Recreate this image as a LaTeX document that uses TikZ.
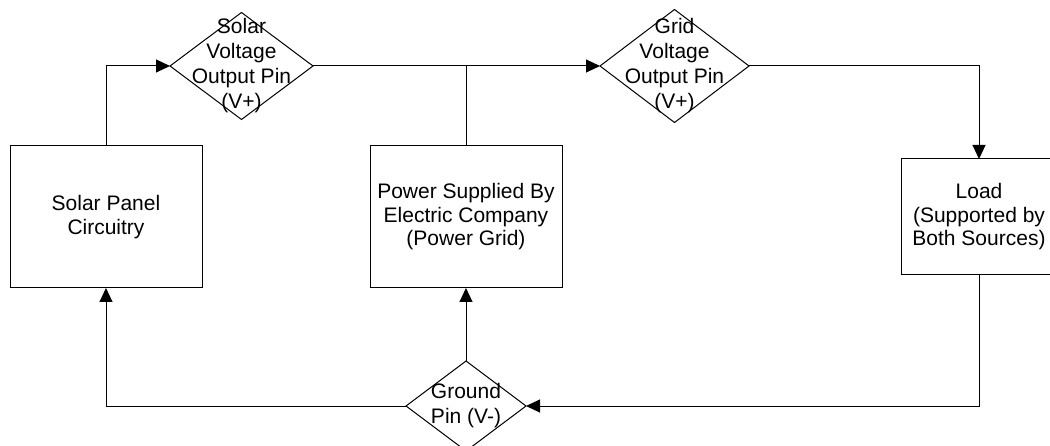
\documentclass[tikz,border=0pt]{standalone}
\usepackage{fontspec}
\setmainfont{Liberation Sans}
\usetikzlibrary{shapes.geometric,arrows.meta}
\begin{document}
\begin{tikzpicture}[x=1pt,y=-1pt,
 box/.style={draw,line width=1pt,rectangle,inner sep=0pt,outer sep=0pt,align=center,font=\fontsize{21}{23.5}\selectfont},
 dia/.style={draw,diamond,line width=1pt,inner sep=0pt,outer sep=0pt},
 dtext/.style={align=center,font=\fontsize{21}{25}\selectfont,inner sep=0pt},
 conn/.style={line width=1pt},
 arr/.style={conn,-{Triangle[length=14pt,width=13pt]}}]
\useasboundingbox (0,0) rectangle (1050,446);
\clip (0,0) rectangle (1050,446);
\node[box,minimum width=192pt,minimum height=142pt] (solar) at (106,217) {Solar Panel\\Circuitry};
\node[box,minimum width=192pt,minimum height=142pt] (grid) at (466,217) {Power Supplied By\\Electric Company\\(Power Grid)};
\node[box,minimum width=156pt,minimum height=116pt] (load) at (979,217) {Load\\(Supported by\\Both Sources)};
\node[dia,minimum width=143pt,minimum height=107pt] (sv) at (241.5,66) {};
\node[dtext] at (sv) {Solar\\Voltage\\Output Pin\\(V+)};
\node[dia,minimum width=149pt,minimum height=113pt] (gv) at (674.5,66) {};
\node[dtext] at (gv) {Grid\\Voltage\\Output Pin\\(V+)};
\node[dia,minimum width=120pt,minimum height=90pt] (gp) at (466,406) {};
\node[dtext] at (gp) {Ground\\Pin (V-)};
\draw[arr] (solar.north) |- (sv.west);
\draw[arr] (sv.east) -- (gv.west);
\draw[conn] (grid.north) -- (grid.north |- sv.east);
\draw[arr] (gv.east) -| (load.north);
\draw[arr] (load.south) |- (gp.east);
\draw[arr] (gp.west) -| (solar.south);
\draw[arr] (gp.north) -- (grid.south);
\end{tikzpicture}
\end{document}
